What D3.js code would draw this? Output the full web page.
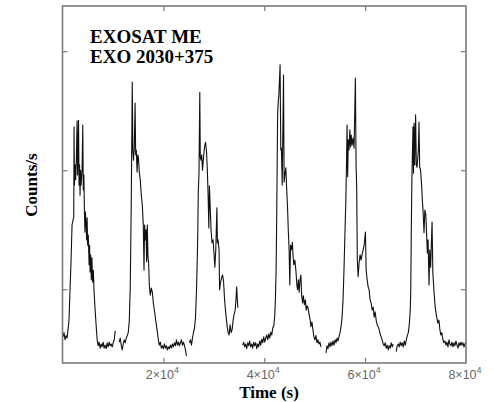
<!DOCTYPE html>
<html>
<head>
<meta charset="utf-8">
<script src="https://cdn.jsdelivr.net/npm/d3@7"></script>
<style>
  html, body { margin: 0; padding: 0; background: #fff; }
  svg { display: block; }
</style>
</head>
<body>
<svg id="chart" width="494" height="402"></svg>
<script>
// ---- Data: EXOSAT ME light curve of EXO 2030+375 (time in s, counts/s) ----
// Each array is one continuous exposure; gaps between them are data gaps.
const exposure1 = [[100,12.0],[300,12.7],[500,11.5],[700,12.2],[900,11.8],[1090,13.2],[1290,14.8],[1490,19.9],[1690,24.6],[1890,30.8],[2090,31.6],[2230,32.1],[2290,47.3],[2370,37.5],[2490,40.9],[2610,38.4],[2750,41.7],[2890,48.3],[2990,39.2],[3080,43.4],[3180,48.4],[3280,37.5],[3380,40.9],[3480,35.8],[3580,40.0],[3680,37.5],[3880,40.0],[4020,47.6],[4120,36.7],[4240,39.2],[4340,33.3],[4440,29.6],[4540,33.0],[4680,30.8],[4780,28.3],[4880,32.0],[4990,27.4],[5110,29.1],[5270,24.1],[5370,27.4],[5470,22.9],[5590,25.8],[5710,21.6],[5830,25.3],[5970,21.2],[6110,23.2],[6270,19.4],[6470,16.5],[6570,15.2],[6730,13.2],[6870,11.5],[7060,10.5],[7260,11.1],[7460,10.1],[7660,10.8],[7860,10.3],[8060,11.1],[8260,10.1],[8460,10.6],[8660,10.0],[8860,11.0],[9050,10.3],[9250,11.1],[9450,10.5],[9650,10.8],[9850,10.3],[10050,11.0],[10250,11.5],[10450,13.0]];
const exposure2 = [[11240,11.1],[11440,11.8],[11640,10.6],[11840,9.8],[12040,10.8],[12240,11.5],[12440,11.0],[12640,11.8],[12840,12.2],[13030,12.7],[13230,14.5],[13430,20.2],[13630,34.2],[13830,54.8],[13950,43.4],[14070,41.7],[14230,43.7],[14390,51.3],[14510,42.6],[14630,43.4],[14790,39.7],[14930,42.6],[15060,42.1],[15220,39.7],[15420,38.4],[15620,35.8],[15820,34.2],[16020,30.8],[16160,23.2],[16280,30.8],[16420,28.3],[16560,30.0],[16680,24.6],[16820,30.8],[16950,25.3],[17070,24.6],[17210,20.7],[17410,19.0],[17610,20.2],[17810,19.5],[18010,17.7],[18210,16.5],[18410,15.2],[18610,14.0],[18810,12.8],[19000,11.5],[19200,10.6],[19400,11.1],[19600,10.1],[19800,10.5],[20000,10.0],[20200,10.8],[20400,10.1],[20600,10.5],[20800,9.8],[20990,10.3],[21190,10.0],[21390,10.6],[21590,10.1],[21790,10.8],[21990,10.3],[22190,11.0],[22390,10.5],[22590,11.5],[22790,10.6],[22980,11.1],[23180,10.5],[23380,11.0],[23580,11.5],[23780,10.6],[23980,11.1],[24180,10.5],[24380,9.8],[24580,8.8]];
const exposure3 = [[25170,11.0],[25370,11.5],[25570,10.6],[25770,11.8],[25970,12.7],[26170,13.5],[26370,15.2],[26570,19.9],[26710,24.6],[26830,30.0],[26920,36.3],[27060,39.5],[27220,53.1],[27320,42.2],[27460,41.7],[27600,42.6],[27760,40.0],[27960,42.1],[28160,43.9],[28360,44.7],[28560,43.1],[28720,40.0],[28870,35.8],[29010,30.3],[29130,37.4],[29270,34.2],[29450,30.0],[29650,27.8],[29850,28.3],[30050,25.8],[30210,23.7],[30390,26.6],[30610,33.7],[30710,27.8],[30840,28.3],[31040,26.6],[31140,19.9],[31340,21.2],[31540,21.9],[31740,22.4],[31940,21.2],[32140,18.2],[32340,16.2],[32640,13.8],[32840,12.7],[33030,12.3],[33230,14.0],[33430,12.7],[33630,13.2],[33830,14.8],[34030,15.8],[34230,16.5],[34390,18.2],[34530,20.4],[34670,18.2],[34770,16.9]];
const exposure4 = [[35720,10.6],[35920,11.1],[36120,10.3],[36320,10.8],[36520,10.0],[36720,11.0],[36910,10.5],[37110,11.3],[37310,10.3],[37510,10.8],[37710,10.1],[37910,11.1],[38110,10.5],[38310,11.0],[38510,10.0],[38710,10.8],[38900,10.3],[39100,11.3],[39300,10.6],[39500,11.6],[39700,11.0],[39900,12.0],[40100,11.1],[40300,11.8],[40500,12.3],[40700,11.5],[40890,12.5],[41090,11.8],[41290,12.8],[41490,12.3],[41690,13.5],[41890,13.8],[42090,15.7],[42210,18.2],[42350,23.2],[42450,30.3],[42570,41.7],[42650,49.3],[42790,51.8],[42880,52.3],[43140,57.7],[43280,43.4],[43400,43.7],[43560,37.5],[43820,56.0],[43940,38.0],[44080,39.2],[44280,40.4],[44440,37.0],[44620,33.7],[44780,29.6],[44930,26.6],[45070,20.7],[45210,27.4],[45370,26.6],[45570,27.9],[45730,25.3],[45870,24.1],[46070,24.9],[46270,23.2],[46470,20.7],[46610,19.9],[46770,21.6],[46920,19.5],[47100,21.6],[47260,22.4],[47420,19.0],[47600,17.7],[47760,18.9],[47960,17.4],[48160,18.2],[48320,16.5],[48500,17.2],[48660,16.9],[48910,15.7],[49110,14.8],[49250,13.7],[49450,14.5],[49650,13.2],[49850,12.0],[50050,11.5],[50250,12.2],[50450,11.0],[50650,11.5],[50840,10.8],[51040,11.1],[51240,10.3]];
const exposure5 = [[52240,9.3],[52440,10.5],[52640,10.0],[52830,11.0],[53030,10.3],[53230,11.1],[53430,10.5],[53630,11.3],[53830,10.6],[54030,11.5],[54230,11.0],[54430,11.8],[54630,11.3],[54820,12.0],[55020,12.7],[55220,13.7],[55420,15.2],[55620,18.2],[55820,23.6],[56020,30.0],[56180,35.0],[56320,41.7],[56420,47.6],[56540,38.9],[56660,45.1],[56810,43.4],[56970,46.8],[57110,43.9],[57250,45.9],[57410,44.2],[57610,45.4],[57810,43.7],[58070,55.5],[58210,40.5],[58330,37.2],[58450,24.9],[58610,22.1],[58800,24.4],[59000,25.8],[59200,24.9],[59400,25.8],[59600,26.6],[59800,27.4],[60060,29.6],[60200,23.2],[60400,21.6],[60600,20.4],[60790,19.9],[60990,18.2],[61190,17.7],[61390,16.5],[61590,17.0],[61790,15.3],[61990,16.2],[62190,14.8],[62390,14.0],[62590,13.7],[62780,13.2],[62980,12.5],[63180,12.0],[63380,11.5],[63580,10.8],[63780,10.5],[63980,11.0],[64180,10.1],[64380,10.6],[64580,9.8],[64770,10.5],[64970,10.1],[65170,11.0],[65370,10.3],[65570,10.8]];
const exposure6 = [[66170,9.5],[66370,10.5],[66570,10.8],[66760,10.3],[66960,11.1],[67160,10.5],[67360,11.0],[67560,10.3],[67760,11.3],[67960,10.6],[68160,11.5],[68360,12.2],[68560,12.7],[68750,14.0],[68950,16.5],[69050,19.9],[69150,29.5],[69270,38.4],[69390,43.4],[69490,47.3],[69590,39.5],[69710,47.9],[69830,40.9],[70010,49.3],[70150,40.9],[70290,40.5],[70410,41.7],[70550,43.4],[70680,48.1],[70820,40.5],[71000,40.0],[71200,37.5],[71340,35.0],[71480,33.3],[71680,29.5],[71840,33.3],[72040,32.5],[72340,26.1],[72480,28.3],[72670,20.7],[72810,26.6],[72990,23.7],[73270,31.3],[73430,22.7],[73670,19.4],[73890,17.0],[74190,15.3],[74430,14.3],[74630,14.8],[74820,13.2],[75020,12.3],[75220,12.7],[75420,11.5],[75620,11.0],[75820,11.3],[76020,10.6],[76220,11.1],[76420,10.3],[76620,11.5],[76810,10.8],[77010,10.5],[77210,11.1],[77410,10.3],[77610,11.0],[77810,10.5],[78010,11.3],[78210,10.6],[78410,10.1],[78600,11.0],[78800,10.5],[79000,11.1],[79200,10.6],[79400,11.0],[79600,10.3],[79800,10.8],[79950,11.1]];

const xTickValues = [20000, 40000, 60000, 80000];
const xTickMantissa = ["2", "4", "6", "8"];
const yTickValues = [20, 40, 60];
const titleLines = ["EXOSAT ME", "EXO 2030+375"];
const xLabel = "Time (s)";
const yLabel = "Counts/s";

// ---- Layout ----
const svg = d3.select("#chart");
const plotL = 62.5, plotR = 466, plotT = 6, plotB = 363;
const x = d3.scaleLinear().domain([0, 80000]).range([plotL, plotR]);
const y = d3.scaleLinear().domain([7.6, 67.6]).range([plotB, plotT]);
const frameColor = "#7a7a7a";

// light curve
const line = d3.line().x(d => x(d[0])).y(d => y(d[1]));
const exposures = [exposure1, exposure2, exposure3, exposure4, exposure5, exposure6];
svg.append("g")
  .selectAll("path")
  .data(exposures)
  .join("path")
  .attr("d", line)
  .attr("fill", "none")
  .attr("stroke", "#111")
  .attr("stroke-width", 1.1)
  .attr("stroke-linejoin", "round");

// axes (inward ticks, no y labels)
const tickLen = 5;
function styleAxis(g) {
  g.selectAll(".domain").remove();
  g.selectAll(".tick line").attr("stroke", frameColor).attr("stroke-width", 1.2);
  g.selectAll(".tick text").remove();
}
svg.append("g").attr("transform", `translate(0,${plotB})`)
  .call(d3.axisBottom(x).tickValues(xTickValues.slice(0, 3)).tickSize(-tickLen)).call(styleAxis);
svg.append("g").attr("transform", `translate(0,${plotT})`)
  .call(d3.axisTop(x).tickValues(xTickValues.slice(0, 3)).tickSize(-tickLen)).call(styleAxis);
svg.append("g").attr("transform", `translate(${plotL},0)`)
  .call(d3.axisLeft(y).tickValues(yTickValues).tickSize(-tickLen)).call(styleAxis);
svg.append("g").attr("transform", `translate(${plotR},0)`)
  .call(d3.axisRight(y).tickValues(yTickValues).tickSize(-tickLen)).call(styleAxis);

// frame
svg.append("rect")
  .attr("x", plotL).attr("y", plotT)
  .attr("width", plotR - plotL).attr("height", plotB - plotT)
  .attr("fill", "none").attr("stroke", frameColor).attr("stroke-width", 1.6);

// x tick labels  (n×10^4)
const labels = svg.append("g")
  .attr("font-family", "'Liberation Sans', Arial, sans-serif")
  .attr("font-size", 12.5).attr("fill", "#666");
xTickValues.forEach((v, i) => {
  const t = labels.append("text")
    .attr("x", x(v) - 1).attr("y", 379).attr("text-anchor", "middle");
  t.append("tspan").text(xTickMantissa[i] + "\u00d710");
  t.append("tspan").attr("dy", -6).attr("font-size", 9).text("4");
});

// axis titles
svg.append("text")
  .attr("x", 269).attr("y", 398).attr("text-anchor", "middle")
  .attr("font-family", "'Liberation Serif', 'Times New Roman', serif")
  .attr("font-weight", "bold").attr("font-size", 17).attr("fill", "#000")
  .text(xLabel);
svg.append("text")
  .attr("transform", "translate(37,185) rotate(-90)").attr("text-anchor", "middle")
  .attr("font-family", "'Liberation Serif', 'Times New Roman', serif")
  .attr("font-weight", "bold").attr("font-size", 17).attr("fill", "#000")
  .text(yLabel);

// title block
const title = svg.append("g")
  .attr("font-family", "'Liberation Serif', 'Times New Roman', serif")
  .attr("font-weight", "bold").attr("font-size", 19).attr("fill", "#000");
titleLines.forEach((s, i) => {
  title.append("text").attr("x", 90).attr("y", 43 + i * 20).text(s);
});
</script>
</body>
</html>
